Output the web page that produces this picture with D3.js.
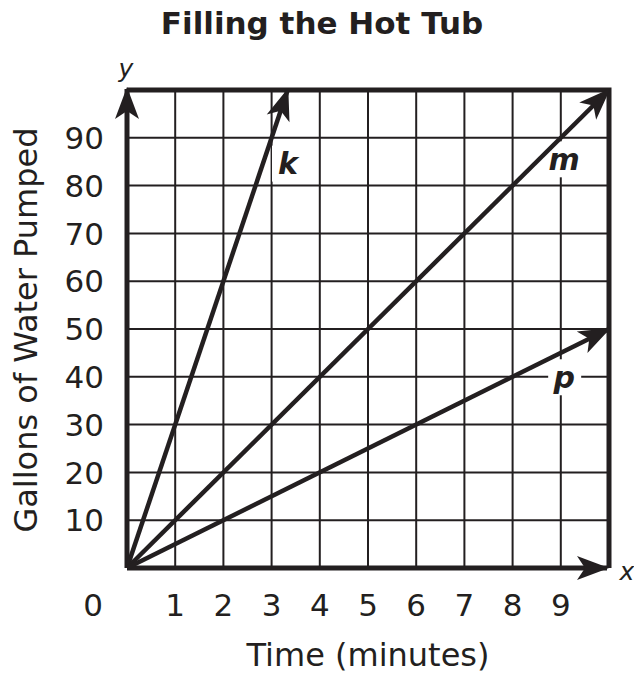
<!DOCTYPE html>
<html>
<head>
<meta charset="utf-8">
<script src="https://cdn.jsdelivr.net/npm/d3@7"></script>
<style>
  body { margin: 0; background: #fff; }
  text { font-family: "DejaVu Sans", Verdana, sans-serif; fill: #231f20; }
</style>
</head>
<body>
<div id="chart"></div>
<script>
// dados do gráfico
const xTicks = [1, 2, 3, 4, 5, 6, 7, 8, 9];
const yTicks = [10, 20, 30, 40, 50, 60, 70, 80, 90];
const lineNames = ["k", "m", "p"];
const lineEndX = [10 / 3, 10, 10];   // minutos no fim da seta
const lineEndY = [100, 100, 50];     // galões no fim da seta
const labelX = [3.34, 9.07, 9.07];
const labelY = [84.6, 85.5, 39.9];

const width = 634, height = 673;
const ink = "#231f20";

const svg = d3.select("#chart").append("svg")
    .attr("width", width)
    .attr("height", height);

const x = d3.scaleLinear().domain([0, 10]).range([127, 609]);
const y = d3.scaleLinear().domain([0, 100]).range([568, 90]);

// ponta de seta
const defs = svg.append("defs");
defs.append("marker")
    .attr("id", "arrow")
    .attr("markerUnits", "userSpaceOnUse")
    .attr("viewBox", "-32 -13 34 26")
    .attr("markerWidth", 34)
    .attr("markerHeight", 26)
    .attr("refX", 0)
    .attr("refY", 0)
    .attr("orient", "auto")
    .append("path")
    .attr("d", "M2,0 L-30,-12 L-22,0 L-30,12 Z")
    .attr("fill", ink);

// título
svg.append("text")
    .attr("x", 322).attr("y", 34)
    .attr("text-anchor", "middle")
    .style("font-size", "31px")
    .style("font-weight", "bold")
    .text("Filling the Hot Tub");

// grade
const grid = svg.append("g").attr("stroke", ink).attr("stroke-width", 2);
grid.selectAll(".vx").data(xTicks).enter().append("line")
    .attr("x1", d => x(d)).attr("x2", d => x(d))
    .attr("y1", y(0)).attr("y2", y(100));
grid.selectAll(".hy").data(yTicks).enter().append("line")
    .attr("x1", x(0)).attr("x2", x(10))
    .attr("y1", d => y(d)).attr("y2", d => y(d));

// borda superior e direita
svg.append("path")
    .attr("d", `M${x(0)},${y(100)} H${x(10)} V${y(0)}`)
    .attr("fill", "none")
    .attr("stroke", ink)
    .attr("stroke-width", 5);

// fundos brancos dos rótulos das retas
svg.selectAll(".lblbg").data(lineNames).enter().append("rect")
    .attr("x", (d, i) => x(labelX[i]) - 16)
    .attr("y", (d, i) => y(labelY[i]) - 18)
    .attr("width", 33).attr("height", 36)
    .attr("fill", "#fff");

// eixos com setas
svg.append("line")
    .attr("x1", x(0)).attr("y1", y(0))
    .attr("x2", x(0)).attr("y2", y(100) - 1)
    .attr("stroke", ink).attr("stroke-width", 5)
    .attr("marker-end", "url(#arrow)");
svg.append("line")
    .attr("x1", x(0)).attr("y1", y(0))
    .attr("x2", x(10) - 2).attr("y2", y(0))
    .attr("stroke", ink).attr("stroke-width", 5)
    .attr("marker-end", "url(#arrow)");

// retas k, m, p
svg.selectAll(".reta").data(lineNames).enter().append("line")
    .attr("x1", x(0)).attr("y1", y(0))
    .attr("x2", (d, i) => x(lineEndX[i]))
    .attr("y2", (d, i) => y(lineEndY[i]))
    .attr("stroke", ink)
    .attr("stroke-width", 4.5)
    .attr("marker-end", "url(#arrow)");

svg.selectAll(".lbl").data(lineNames).enter().append("text")
    .attr("x", (d, i) => x(labelX[i]))
    .attr("y", (d, i) => y(labelY[i]))
    .attr("dy", "0.35em")
    .attr("text-anchor", "middle")
    .style("font-size", "30px")
    .style("font-weight", "bold")
    .style("font-style", "italic")
    .text(d => d);

// rótulos dos ticks
svg.selectAll(".xt").data([0].concat(xTicks)).enter().append("text")
    .attr("x", d => d === 0 ? 93 : x(d))
    .attr("y", 616)
    .attr("text-anchor", "middle")
    .style("font-size", "31px")
    .text(d => d);
svg.selectAll(".yt").data(yTicks).enter().append("text")
    .attr("x", 104)
    .attr("y", d => y(d))
    .attr("dy", "0.36em")
    .attr("text-anchor", "end")
    .style("font-size", "31px")
    .text(d => d);

// nomes dos eixos
svg.append("text")
    .attr("x", 126).attr("y", 77)
    .attr("text-anchor", "middle")
    .style("font-size", "25px")
    .style("font-style", "italic")
    .text("y");
svg.append("text")
    .attr("x", 627).attr("y", 580)
    .attr("text-anchor", "middle")
    .style("font-size", "25px")
    .style("font-style", "italic")
    .text("x");

svg.append("text")
    .attr("x", 368).attr("y", 666)
    .attr("text-anchor", "middle")
    .style("font-size", "32px")
    .text("Time (minutes)");
svg.append("text")
    .attr("transform", "translate(37,330) rotate(-90)")
    .attr("text-anchor", "middle")
    .style("font-size", "32px")
    .text("Gallons of Water Pumped");
</script>
</body>
</html>
